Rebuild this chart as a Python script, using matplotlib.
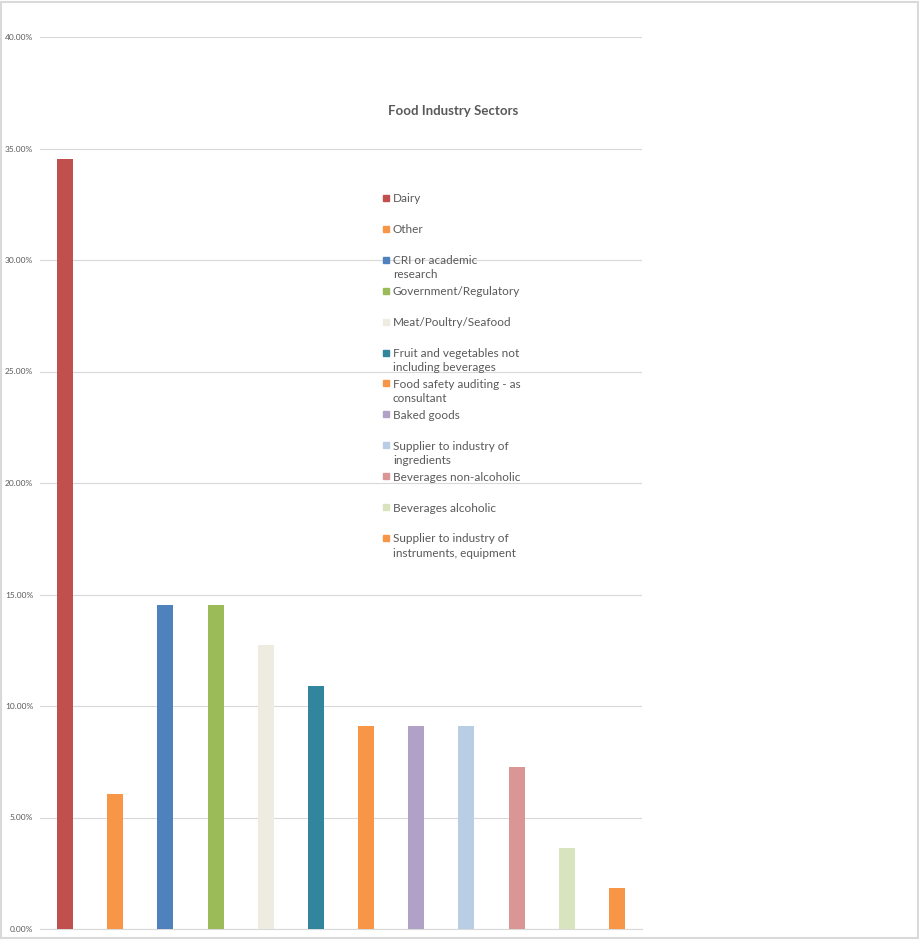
import matplotlib.pyplot as plt
from matplotlib.patches import Rectangle
from matplotlib.ticker import FuncFormatter

plt.rcParams['font.family'] = ['Lato', 'DejaVu Sans']

sectors = ['Dairy', 'Other', 'CRI or academic\nresearch', 'Government/Regulatory',
           'Meat/Poultry/Seafood', 'Fruit and vegetables not\nincluding beverages',
           'Food safety auditing - as\nconsultant', 'Baked goods',
           'Supplier to industry of\ningredients', 'Beverages non-alcoholic',
           'Beverages alcoholic', 'Supplier to industry of\ninstruments, equipment']
shares = [34.55, 6.05, 14.55, 14.55, 12.73, 10.91, 9.09, 9.09, 9.09, 7.27, 3.64, 1.82]
colors = ['#C0504D', '#F79646', '#4F81BD', '#9BBB59', '#EEECE1', '#31859C',
          '#F79646', '#B2A1C7', '#B9CDE5', '#D99694', '#D7E4BD', '#F79646']
y_ticks = [0, 5, 10, 15, 20, 25, 30, 35, 40]

fig = plt.figure(figsize=(9.2, 9.4), dpi=100)
ax = fig.add_axes([40 / 920, 11 / 940, 602 / 920, 892 / 940])

x = list(range(len(shares)))
ax.bar(x, shares, width=0.32, color=colors, zorder=3)
ax.set_xlim(-0.5, len(shares) - 0.5)
ax.set_ylim(0, 40)
ax.set_yticks(y_ticks)
ax.yaxis.set_major_formatter(FuncFormatter(lambda v, p: f'{v:.2f}%'))
ax.set_xticks([])
ax.grid(axis='y', color='#D9D9D9', linewidth=0.8, zorder=0)
for s in ['top', 'right', 'left']:
    ax.spines[s].set_visible(False)
ax.spines['bottom'].set_color('#D9D9D9')
ax.tick_params(axis='y', length=0, labelsize=6, labelcolor='#595959', pad=5)

fig.text(453 / 920, 1 - 111 / 940, 'Food Industry Sectors', ha='center', va='center',
         fontsize=9.5, fontweight='bold', color='#595959')

# legend, drawn by hand for the even spacing
for i, (lab, c) in enumerate(zip(sectors, colors)):
    yy = 198 + i * 30.9
    fig.patches.append(Rectangle((383 / 920, 1 - (yy + 3) / 940), 6 / 920, 6 / 940,
                                 transform=fig.transFigure, color=c))
    fig.text(393 / 920, 1 - (yy - 4.5) / 940, lab, ha='left', va='top', fontsize=8.5,
             color='#595959', linespacing=1.35)

# outer chart border
fig.patches.append(Rectangle((0.001, 0.002), 0.997, 0.996, transform=fig.transFigure,
                             fill=False, edgecolor='#D9D9D9', linewidth=1.5))

fig.savefig('out.png', dpi=100)
